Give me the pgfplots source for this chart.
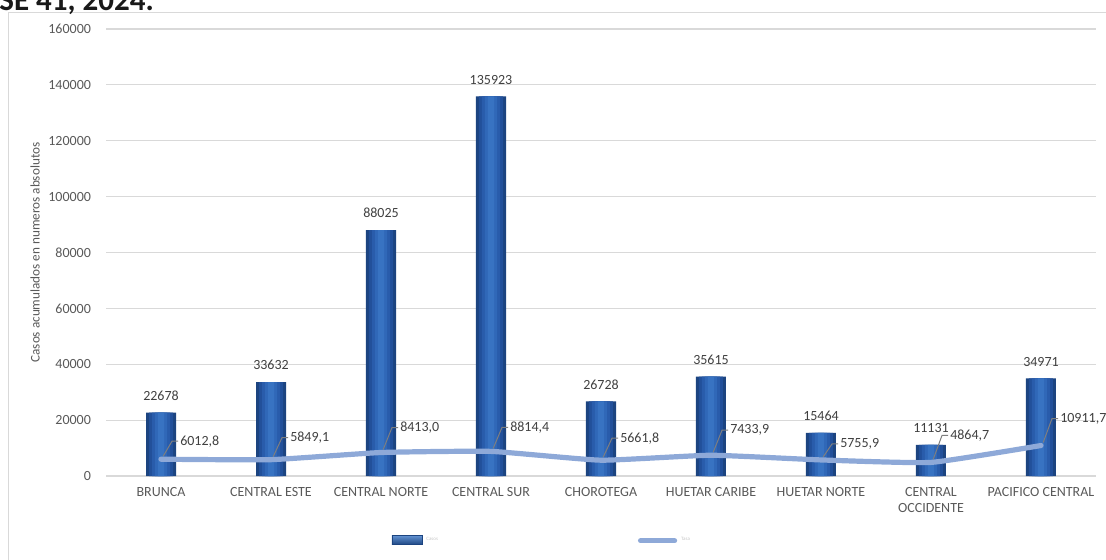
\documentclass[border=0pt]{standalone}
\usepackage{pgfplots}
\pgfplotsset{compat=1.18}
\usepackage{pgfplotstable}
\usepackage{fontspec}
\setmainfont{Carlito}
\definecolor{gridc}{HTML}{D9D9D9}
\definecolor{tickc}{HTML}{595959}
\definecolor{labc}{HTML}{404040}
\definecolor{barA}{HTML}{1C4480}
\definecolor{barB}{HTML}{22509A}
\definecolor{barC}{HTML}{295CAB}
\definecolor{barD}{HTML}{3068B8}
\definecolor{barE}{HTML}{3873C2}
\definecolor{linec}{HTML}{8EA9D8}
\definecolor{leadc}{HTML}{7F7F7F}

\pgfplotstableread{
x cases rate dy clab rlab
0 22678 6012.8 18 22678 6012,8
1 33632 5849.1 22 33632 5849,1
2 88025 8413.0 25 88025 8413,0
3 135923 8814.4 24 135923 8814,4
4 26728 5661.8 22 26728 5661,8
5 35615 7433.9 25 35615 7433,9
6 15464 5755.9 16 15464 5755,9
7 11131 4864.7 27 11131 4864,7
8 34971 10911.7 27 34971 10911,7
}\data

\pgfplotstableread{
x y
0.02 7087
0.10 12455
0.155 12455
nan nan
1.02 6923
1.10 13723
1.155 13723
nan nan
2.02 9487
2.10 17361
2.155 17361
nan nan
3.02 9888
3.10 17404
3.155 17404
nan nan
4.02 6736
4.10 13536
4.155 13536
nan nan
5.02 8508
5.10 16382
5.155 16382
nan nan
6.02 6830
6.10 11482
6.155 11482
nan nan
7.02 5939
7.10 14528
7.155 14528
nan nan
8.02 11986
8.10 20575
8.155 20575
}\leaders

\begin{document}
\begin{tikzpicture}
\draw[gridc, line width=0.6pt] (4.3pt,-10pt) rectangle (570pt,273.3pt);
\node[anchor=base west, font=\bfseries\fontsize{15.5}{16}\selectfont, inner sep=0, text=black!90] at (-0.5pt,274.5pt) {SE 41, 2024.};
\begin{axis}[
  at={(53pt,41.5pt)}, anchor=south west,
  scale only axis, width=495pt, height=223.5pt,
  xmin=-0.5, xmax=8.5, ymin=0, ymax=160000,
  ytick={0,20000,40000,60000,80000,100000,120000,140000,160000},
  yticklabels={0,20000,40000,60000,80000,100000,120000,140000,160000},
  xtick={0,...,8},
  xticklabels={BRUNCA, CENTRAL ESTE, CENTRAL NORTE, CENTRAL SUR, CHOROTEGA, HUETAR CARIBE, HUETAR NORTE, {CENTRAL\\OCCIDENTE}, PACIFICO CENTRAL},
  scaled y ticks=false,
  ymajorgrids, major grid style={gridc, line width=0.6pt},
  axis line style={draw=none},
  tick style={draw=none},
  yticklabel style={font=\fontsize{7}{8}\selectfont, text=tickc, xshift=-4pt},
  xticklabel style={font=\fontsize{7}{8}\selectfont, text=tickc, align=center, yshift=-2pt},
  ylabel={Casos acumulados en numeros absolutos},
  every axis y label/.style={at={(axis description cs:-0.0717,0.5)}, rotate=90, anchor=center, font=\fontsize{6.6}{7}\selectfont, text=tickc},
  unbounded coords=jump,
  clip=false,
  legend style={at={(axis description cs:0.282,-0.145)}, anchor=west, draw=none, fill=none,
    legend columns=2, font=\fontsize{2.5}{3}\selectfont, text=gray!45,
    /tikz/every even column/.append style={column sep=98pt}},
]
\addplot[ybar, bar width=15pt, draw=none, fill=barA,
  point meta=explicit symbolic,
  nodes near coords={\pgfplotspointmeta},
  every node near coord/.append style={font=\fontsize{7}{8}\selectfont, text=labc, yshift=2.5pt},
  legend image code/.code={\draw[barA, line width=0.4pt, top color=barE!80!white, bottom color=barA] (0pt,-2pt) rectangle (15pt,2.5pt);}
] table[x=x, y=cases, meta=clab] {\data};
\addlegendentry{Casos}
\addplot[ybar, bar width=12pt, draw=none, fill=barB, forget plot] table[x=x, y=cases] {\data};
\addplot[ybar, bar width=9pt, draw=none, fill=barC, forget plot] table[x=x, y=cases] {\data};
\addplot[ybar, bar width=6pt, draw=none, fill=barD, forget plot] table[x=x, y=cases] {\data};
\addplot[ybar, bar width=3pt, draw=none, fill=barE, forget plot] table[x=x, y=cases] {\data};
\addplot[leadc, line width=0.5pt, forget plot] table[x=x, y=y] {\leaders};
\addplot[linec, line width=2.6pt, line cap=round, line join=round, smooth, tension=0.25, mark=none,
  visualization depends on={\thisrow{dy} \as \dyv},
  point meta=explicit symbolic,
  nodes near coords={\pgfplotspointmeta},
  every node near coord/.append style={font=\fontsize{7}{8}\selectfont, text=labc, anchor=west, xshift=5pt, yshift=\dyv*0.5pt},
  legend image code/.code={\draw[linec, line width=2.6pt, line cap=round] (0pt,0pt) -- (17pt,0pt);}
] table[x=x, y=rate, meta=rlab] {\data};
\addlegendentry{Tasa}
\end{axis}
\pgfresetboundingbox
\path[use as bounding box] (0,0) rectangle (553pt,279.5pt);
\end{tikzpicture}
\end{document}
